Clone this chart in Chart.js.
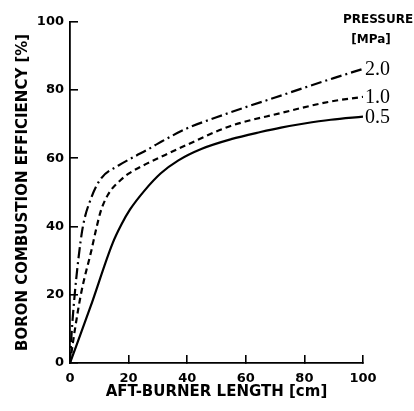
<!DOCTYPE html>
<html>
<head>
<meta charset="utf-8">
<script src="https://cdn.jsdelivr.net/npm/chart.js@4/dist/chart.umd.min.js"></script>
<style>
  html, body { margin: 0; padding: 0; background: #fff; }
  #wrap { width: 414px; height: 411px; }
</style>
</head>
<body>
<div id="wrap"><canvas id="c" width="414" height="411"></canvas></div>
<script>
const xTicks = [0, 20, 40, 60, 80, 100];
const yTicks = [0, 20, 40, 60, 80, 100];

const pressures = ['2.0', '1.0', '0.5'];

const x20 = [0, 0.5, 1.6, 2.8, 4.4, 7.3, 10.7, 16.4, 22, 26.6, 30, 40, 50, 60, 70, 80, 90, 100];
const y20 = [0, 8, 20, 30, 40, 48.5, 54.2, 57.8, 60.5, 62.6, 64.3, 68.8, 72, 75, 77.8, 80.7, 83.5, 86.2];

const x10 = [0, 1.6, 3.9, 7.3, 9, 10.5, 13, 17.5, 20, 24.3, 32.3, 40, 54.6, 71.7, 88.7, 100];
const y10 = [0, 9.4, 20.9, 33, 39.5, 44.5, 49.4, 53.8, 55.5, 57.6, 60.9, 64, 69.4, 73.2, 76.6, 78];

const x05 = [0, 7, 14.5, 17.5, 20.5, 25.5, 31, 37, 45, 55, 65, 72, 80, 89, 100];
const y05 = [0, 16.5, 35, 40.5, 45, 50.6, 55.6, 59.4, 62.8, 65.6, 67.7, 69, 70.2, 71.3, 72.2];

function pts(xs, ys) {
  return xs.map((x, i) => ({x: x, y: ys[i]}));
}

const sans = "'DejaVu Sans', sans-serif";

// pressure labels at the line ends + legend heading
const endLabels = {
  id: 'endLabels',
  afterDatasetsDraw(chart) {
    const ctx = chart.ctx;
    ctx.save();
    ctx.fillStyle = '#000';
    ctx.font = "20px 'Liberation Serif', serif";
    ctx.textBaseline = 'middle';
    ctx.textAlign = 'left';
    chart.data.datasets.forEach((ds, i) => {
      const meta = chart.getDatasetMeta(i);
      const last = meta.data[meta.data.length - 1];
      ctx.fillText(ds.label, last.x + 2, last.y + 1);
    });
    ctx.font = "bold 12px " + sans;
    ctx.textAlign = 'center';
    ctx.fillText('PRESSURE', 378, 20);
    ctx.fillText('[MPa]', 371, 40);
    ctx.restore();
  }
};

const ctx = document.getElementById('c').getContext('2d');

let chart = new Chart(ctx, {
  type: 'line',
  data: {
    datasets: [
      {
        label: pressures[0],
        data: pts(x20, y20),
        borderDash: [11, 4, 2, 4]
      },
      {
        label: pressures[1],
        data: pts(x10, y10),
        borderDash: [6, 4]
      },
      {
        label: pressures[2],
        data: pts(x05, y05),
        borderDash: []
      }
    ]
  },
  options: {
    responsive: false,
    animation: false,
    devicePixelRatio: 1,
    layout: { padding: { left: 0, right: 51, top: 13, bottom: 0 } },
    elements: {
      line: { borderColor: '#000', borderWidth: 2.2, cubicInterpolationMode: 'monotone', fill: false },
      point: { radius: 0 }
    },
    plugins: {
      legend: { display: false },
      tooltip: { enabled: false }
    },
    scales: {
      x: {
        type: 'linear',
        min: 0,
        max: 100,
        afterFit: (s) => { s.height = 48; },
        afterBuildTicks: (s) => { s.ticks = xTicks.map(v => ({value: v})); },
        grid: { drawOnChartArea: false, tickLength: -8, color: '#000', lineWidth: 1.6 },
        border: { color: '#000', width: 1.8 },
        ticks: { color: '#000', padding: 16, maxRotation: 0, font: { family: sans, size: 13, weight: 'bold' } },
        title: {
          display: true,
          text: 'AFT-BURNER LENGTH [cm]',
          color: '#000',
          padding: { top: 0, bottom: 10 },
          font: { family: sans, size: 15, weight: 'bold' }
        }
      },
      y: {
        type: 'linear',
        min: 0,
        max: 100,
        afterFit: (s) => { s.width = 70; },
        afterBuildTicks: (s) => { s.ticks = yTicks.map(v => ({value: v})); },
        grid: { drawOnChartArea: false, tickLength: -8, color: '#000', lineWidth: 1.6 },
        border: { color: '#000', width: 1.8 },
        ticks: { color: '#000', padding: 14, font: { family: sans, size: 13, weight: 'bold' } },
        title: {
          display: true,
          text: 'BORON COMBUSTION EFFICIENCY [%]',
          color: '#000',
          padding: { top: 14, bottom: 0 },
          font: { family: sans, size: 15, weight: 'bold' }
        }
      }
    }
  },
  plugins: [endLabels]
});
</script>
</body>
</html>
